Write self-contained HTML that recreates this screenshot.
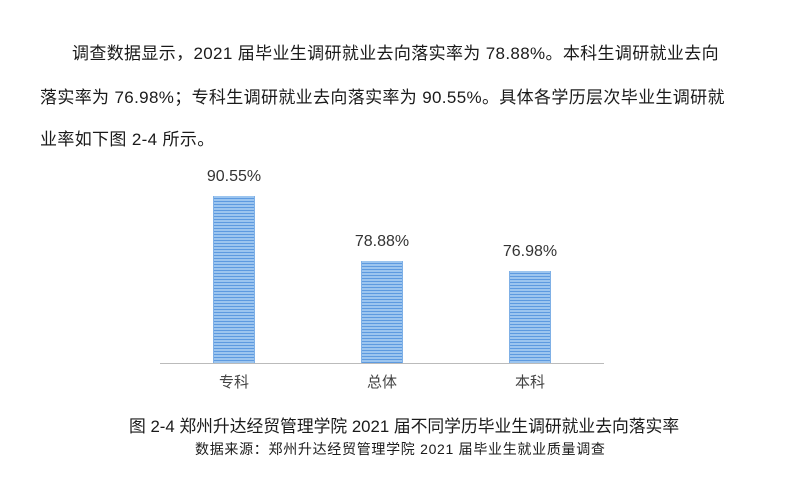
<!DOCTYPE html>
<html><head><meta charset="utf-8"><style>
body{margin:0;width:795px;height:477px;background:#fff;position:relative;overflow:hidden;font-family:"Liberation Sans","Noto Sans CJK SC",sans-serif;color:#1a1a1a}
.t{position:absolute;white-space:nowrap;font-size:17px;letter-spacing:0.35px}
.bar{position:absolute;width:42px;background:repeating-linear-gradient(to bottom,#9cc5ef 0 2px,#5d9ae0 2px 3px);border-left:1px solid #7fb0e6;border-right:1px solid #7fb0e6;box-sizing:border-box}
.v{position:absolute;font-size:16px;color:#333;width:100px;text-align:center}
.c{position:absolute;font-size:15px;color:#444;width:100px;text-align:center}
</style></head><body>
<div class="t" style="left:72px;top:39px">调查数据显示，2021 届毕业生调研就业去向落实率为 78.88%。本科生调研就业去向</div>
<div class="t" style="left:40px;top:83px">落实率为 76.98%；专科生调研就业去向落实率为 90.55%。具体各学历层次毕业生调研就</div>
<div class="t" style="left:40px;top:125px">业率如下图 2-4 所示。</div>
<div class="v" style="left:184px;top:168px">90.55%</div>
<div class="v" style="left:332px;top:233px">78.88%</div>
<div class="v" style="left:480px;top:243px">76.98%</div>
<div class="bar" style="left:213px;top:196px;height:167px"></div>
<div class="bar" style="left:361px;top:261px;height:102px"></div>
<div class="bar" style="left:509px;top:271px;height:92px"></div>
<div style="position:absolute;left:160px;top:363px;width:444px;height:1px;background:#bbb"></div>
<div class="c" style="left:184px;top:371px">专科</div>
<div class="c" style="left:332px;top:371px">总体</div>
<div class="c" style="left:480px;top:371px">本科</div>
<div class="t" style="left:129px;top:413px;font-size:16.8px;letter-spacing:0">图 2-4 郑州升达经贸管理学院 2021 届不同学历毕业生调研就业去向落实率</div>
<div class="t" style="left:195px;top:439px;font-size:14px;letter-spacing:0.7px">数据来源：郑州升达经贸管理学院 2021 届毕业生就业质量调查</div>
</body></html>
